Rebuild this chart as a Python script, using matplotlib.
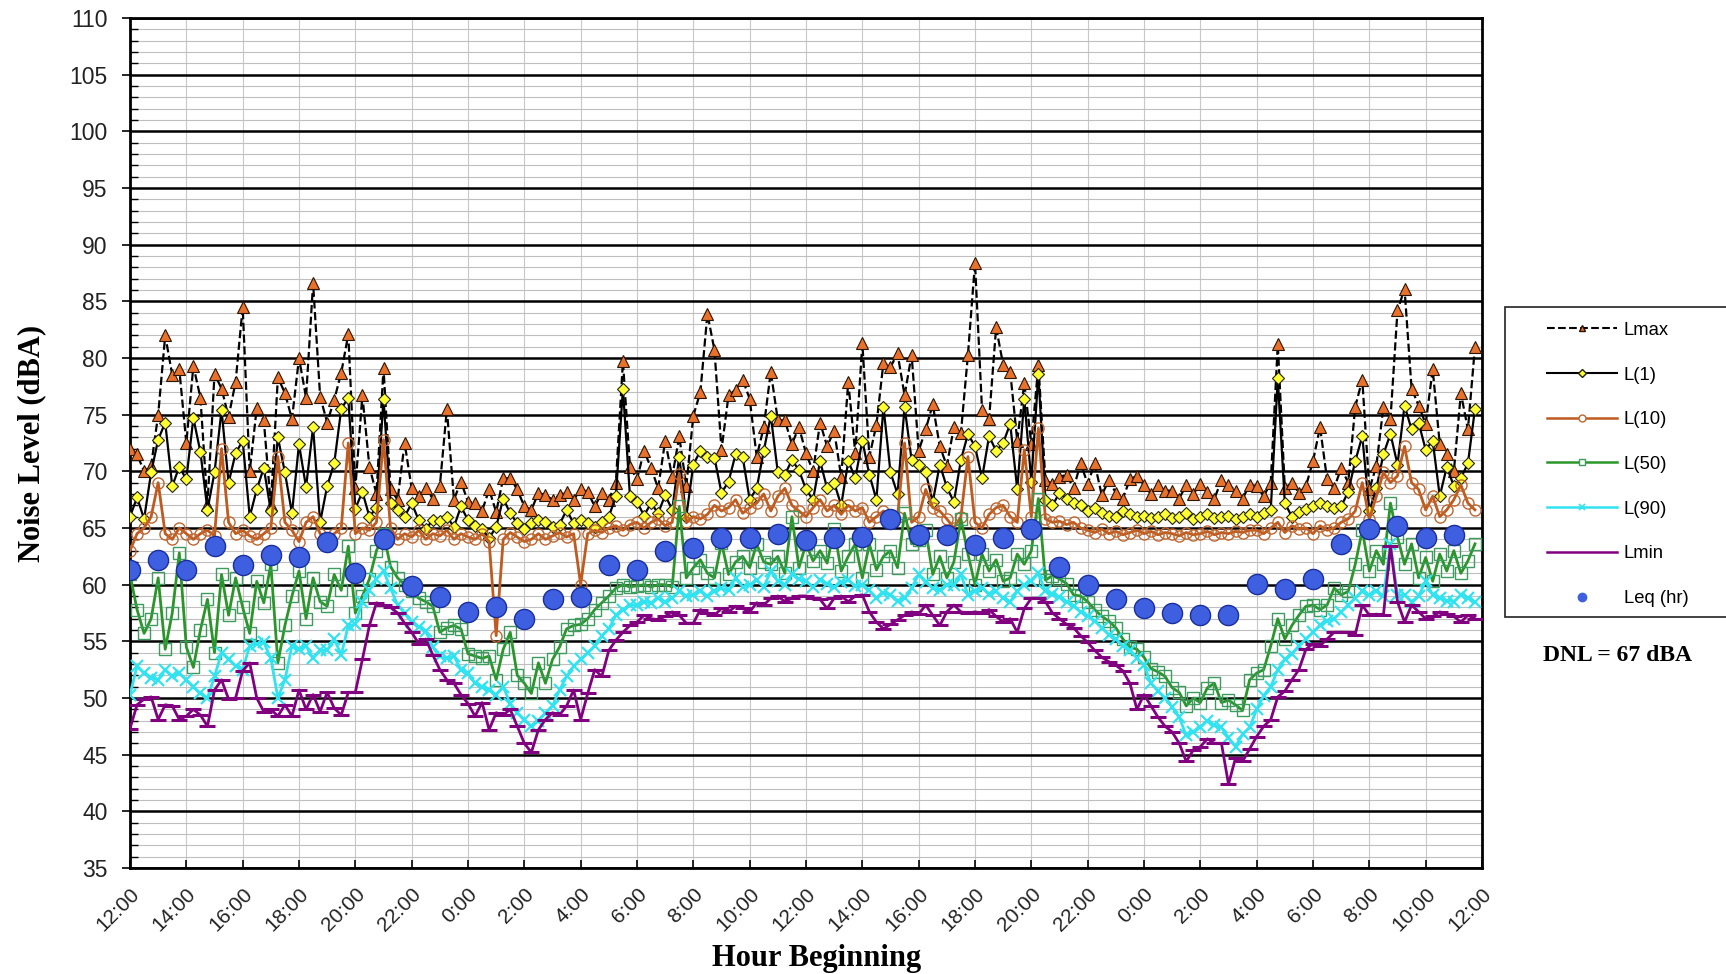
import matplotlib
matplotlib.use("Agg")
import matplotlib.pyplot as plt
import numpy as np
from matplotlib.lines import Line2D
from matplotlib.patches import Rectangle

# 15-minute readings (dBA), 12:00 day 1 -> 12:00 day 3, one row block per 8 hours
lmax = [
    72.0, 71.5, 70.0, 70.5, 75.0, 82.0, 78.5, 79.0, 72.5, 79.3, 76.5, 67.0, 78.6, 77.3, 74.8, 77.9,
    84.5, 70.0, 75.6, 74.5, 67.0, 78.3, 76.9, 74.6, 80.0, 76.5, 86.6, 76.6, 74.3, 76.3, 78.7, 82.1,
    68.5, 76.7, 70.4, 68.0, 79.1, 68.4, 67.5, 72.5, 68.5, 67.8, 68.5, 67.6, 68.7, 75.5, 67.5, 69.1,
    67.3, 67.2, 66.5, 68.4, 66.4, 69.4, 69.4, 68.4, 66.9, 66.6, 68.1, 67.9, 67.5, 67.9, 68.2, 67.5,
    68.4, 68.2, 66.9, 68.1, 67.5, 69.0, 79.7, 70.4, 69.3, 71.8, 70.3, 68.5, 72.7, 69.5, 73.1, 68.7,
    74.9, 77.0, 83.9, 80.7, 71.9, 76.7, 77.2, 78.1, 76.4, 71.3, 73.9, 78.8, 74.5, 74.5, 72.4, 73.9,
    71.6, 70.0, 74.3, 72.2, 73.6, 69.5, 77.9, 71.6, 81.3, 71.3, 74.1, 79.6, 79.2, 80.4, 76.7, 80.3,
    71.8, 73.7, 75.9, 72.2, 70.5, 73.9, 73.4, 80.3, 88.4, 75.4, 74.6, 82.7, 79.4, 78.8, 72.7, 77.8,
    72.4, 79.4, 69.2, 68.9, 69.5, 69.7, 68.5, 70.7, 68.9, 70.7, 67.9, 69.2, 68.1, 67.6, 69.3, 69.6,
    68.8, 68.0, 68.8, 68.3, 68.3, 67.6, 68.8, 68.0, 68.9, 68.2, 67.6, 69.2, 68.8, 68.3, 67.6, 68.8,
    68.7, 67.8, 69.0, 81.2, 68.5, 69.0, 68.1, 68.7, 70.9, 73.9, 69.3, 68.5, 70.3, 69.0, 75.7, 78.1,
    68.4, 70.5, 75.7, 74.6, 84.2, 86.1, 77.3, 75.8, 74.2, 79.0, 72.4, 71.5, 70.0, 76.9, 73.7, 81.0,
]
l1 = [
    66.0, 67.7, 65.8, 69.9, 72.8, 74.3, 68.7, 70.4, 69.3, 74.7, 71.7, 66.6, 69.9, 75.4, 69.0, 71.6,
    72.7, 66.0, 68.4, 70.3, 66.5, 73.0, 69.9, 66.3, 72.4, 68.6, 73.9, 65.5, 68.7, 70.7, 75.5, 76.5,
    66.7, 68.2, 66.0, 66.8, 76.4, 67.2, 66.6, 66.0, 67.2, 65.7, 64.9, 65.7, 65.6, 66.0, 65.1, 66.9,
    65.7, 65.2, 64.9, 64.1, 65.1, 67.6, 66.3, 65.4, 64.9, 65.4, 65.7, 65.5, 65.1, 65.3, 66.6, 65.4,
    65.7, 65.4, 65.1, 65.5, 66.0, 67.8, 77.3, 67.8, 67.3, 66.1, 67.2, 66.3, 67.9, 66.6, 71.3, 66.0,
    70.6, 71.8, 71.3, 71.2, 68.1, 69.1, 71.5, 71.3, 67.5, 68.5, 71.8, 74.9, 69.9, 69.7, 71.0, 70.1,
    68.4, 67.5, 70.9, 68.5, 69.0, 67.0, 70.9, 69.4, 72.7, 69.7, 67.5, 75.7, 69.9, 68.0, 75.7, 71.0,
    70.6, 69.9, 67.3, 70.6, 68.6, 67.3, 71.0, 73.3, 72.2, 69.4, 73.1, 71.8, 72.5, 74.2, 68.4, 76.4,
    69.1, 78.6, 67.5, 67.0, 68.1, 67.6, 67.2, 67.0, 66.5, 66.8, 66.3, 66.1, 66.0, 66.5, 66.2, 66.0,
    66.1, 65.9, 66.0, 66.2, 65.9, 66.0, 66.3, 65.8, 66.0, 66.2, 65.9, 66.0, 66.1, 65.8, 66.0, 66.2,
    66.0, 66.3, 66.6, 78.2, 67.2, 66.0, 66.4, 66.7, 66.9, 67.2, 66.9, 66.8, 66.9, 68.2, 70.9, 73.1,
    66.5, 68.5, 71.5, 73.3, 70.6, 75.8, 73.7, 74.3, 71.9, 72.7, 67.8, 70.4, 68.7, 69.4, 70.7, 75.5,
]
l10 = [
    63.0, 64.5, 65.0, 66.0, 69.0, 64.5, 64.0, 65.0, 64.5, 64.0, 64.5, 64.8, 64.3, 72.0, 65.5, 64.5,
    64.8, 64.3, 64.0, 64.5, 65.0, 71.3, 65.5, 64.8, 63.8, 65.5, 66.0, 64.5, 64.0, 64.5, 65.0, 72.5,
    64.5, 65.0, 64.8, 65.5, 72.8, 65.0, 64.0, 64.5, 64.2, 64.8, 64.0, 64.5, 64.3, 64.8, 64.0, 64.5,
    64.2, 64.0, 64.5, 63.8, 55.5, 64.0, 64.6, 64.2, 63.8, 64.0, 64.5, 64.0, 64.3, 64.6, 64.2, 64.5,
    60.0, 64.5, 64.8, 64.6, 65.0, 65.2, 64.8, 65.3, 65.5, 65.0, 65.5, 65.8, 65.2, 65.5, 69.8, 65.5,
    66.0, 65.8, 66.2, 67.0, 66.5, 66.8, 67.5, 66.3, 66.8, 67.2, 68.0, 66.5, 67.8, 68.5, 67.0, 66.5,
    66.0, 66.8, 67.5, 66.5, 67.0, 66.2, 67.0, 66.5, 66.8, 65.5, 66.0, 66.5, 65.5, 66.0, 72.5, 65.5,
    66.0, 68.4, 66.8, 66.5, 65.8, 65.0, 66.0, 71.3, 65.5, 65.0, 66.2, 66.8, 67.0, 66.0, 65.5, 71.9,
    66.0, 73.8, 65.8, 65.5, 65.6, 65.3, 65.5, 65.0, 64.8, 64.6, 64.9, 64.5, 64.7, 64.4, 64.6, 64.8,
    64.5, 64.7, 64.4, 64.6, 64.5, 64.3, 64.6, 64.4, 64.5, 64.7, 64.4, 64.6, 64.5, 64.7, 64.6, 64.8,
    64.8, 64.5, 65.0, 65.5, 64.6, 65.2, 64.9, 65.0, 64.5, 65.2, 64.8, 65.0, 65.5, 65.8, 66.5, 69.0,
    65.8, 67.8, 69.9, 69.0, 69.6, 72.2, 69.0, 68.4, 66.6, 67.8, 66.0, 66.6, 67.5, 68.8, 67.2, 66.6,
]
l50 = [
    60.9, 57.8, 55.7, 57.0, 60.6, 54.3, 57.5, 62.8, 54.5, 52.7, 56.0, 58.7, 54.0, 60.9, 57.3, 60.6,
    58.0, 55.7, 60.3, 58.4, 61.8, 53.1, 56.4, 59.0, 61.2, 57.0, 60.6, 58.5, 58.1, 60.9, 59.5, 63.4,
    57.5, 59.0, 60.5, 63.0, 64.5, 61.6, 60.6, 60.0, 59.4, 58.8, 58.5, 58.1, 55.8, 56.2, 56.4, 56.1,
    53.9, 53.7, 53.5, 53.7, 51.6, 54.3, 55.8, 52.0, 51.3, 50.4, 53.1, 51.3, 53.4, 54.5, 56.1, 56.4,
    56.5, 57.0, 57.8, 58.4, 59.0, 59.7, 60.0, 59.8, 59.9, 60.0, 59.8, 60.0, 60.0, 59.8, 66.9, 60.6,
    61.5, 62.2, 61.0, 60.6, 63.7, 60.9, 62.0, 62.5, 61.5, 63.6, 62.0, 61.8, 62.5, 61.0, 66.0, 61.5,
    63.6, 62.1, 63.0, 61.9, 64.9, 61.2, 62.5, 63.6, 60.6, 63.6, 61.3, 62.5, 63.0, 61.5, 66.3, 63.6,
    63.9, 64.8, 60.9, 62.5, 60.6, 62.0, 65.8, 62.7, 60.0, 62.7, 61.2, 62.2, 60.3, 60.6, 62.7, 61.8,
    63.0, 67.6, 60.4, 60.8, 60.5, 60.1, 59.1, 59.0, 58.5, 57.8, 57.2, 56.8, 56.2, 55.2, 54.5, 54.3,
    53.6, 52.6, 52.3, 51.9, 50.9, 50.5, 49.3, 50.0, 49.6, 50.9, 51.3, 49.6, 49.8, 49.4, 48.9, 51.6,
    52.2, 52.5, 54.6, 57.0, 55.2, 56.4, 57.3, 58.1, 58.2, 57.8, 58.2, 59.7, 59.1, 59.4, 61.8, 64.8,
    61.2, 63.0, 61.8, 67.2, 64.2, 61.8, 63.6, 60.6, 62.4, 60.3, 62.7, 61.2, 63.0, 61.0, 62.1, 63.6,
]
l90 = [
    50.3, 52.8, 52.2, 51.8, 51.6, 52.5, 51.9, 52.2, 51.6, 51.0, 50.4, 50.0, 51.9, 54.0, 53.4, 52.8,
    52.5, 54.6, 54.8, 54.9, 53.5, 50.0, 51.6, 54.6, 54.3, 54.6, 53.5, 54.2, 54.2, 55.2, 53.8, 56.4,
    56.5, 58.5, 59.5, 60.5, 61.2, 59.7, 58.2, 57.5, 56.7, 56.3, 55.9, 54.5, 53.7, 53.5, 53.7, 52.5,
    52.2, 51.3, 51.0, 50.7, 50.3, 51.0, 49.5, 48.7, 48.1, 47.5, 48.0, 48.7, 49.3, 50.7, 51.9, 52.8,
    53.4, 54.0, 54.6, 55.5, 56.1, 57.3, 57.8, 58.2, 58.2, 58.5, 58.4, 58.8, 58.5, 58.8, 59.4, 59.0,
    59.1, 59.4, 59.0, 59.4, 59.7, 59.5, 60.6, 59.8, 60.0, 60.4, 59.8, 61.2, 60.3, 60.0, 60.9, 60.5,
    60.3, 59.8, 60.4, 60.1, 59.8, 60.2, 60.4, 59.9, 60.0, 59.5, 58.8, 59.3, 59.1, 58.6, 58.8, 59.7,
    60.9, 60.2, 59.7, 59.5, 60.0, 60.0, 60.9, 59.1, 59.4, 59.7, 59.2, 59.4, 58.8, 58.5, 59.4, 60.0,
    60.3, 61.0, 59.4, 59.2, 58.9, 58.5, 58.1, 57.6, 57.2, 56.8, 56.2, 55.6, 55.2, 54.6, 54.2, 53.5,
    52.9, 51.3, 50.6, 50.0, 49.2, 48.3, 46.7, 47.0, 47.4, 48.0, 47.6, 47.4, 46.5, 45.7, 46.8, 47.4,
    49.0, 50.2, 51.0, 52.5, 53.4, 53.9, 54.6, 55.2, 55.8, 56.4, 56.8, 57.0, 57.6, 58.2, 58.8, 59.4,
    59.1, 59.4, 59.0, 63.6, 59.1, 59.1, 58.5, 59.0, 60.3, 59.1, 58.8, 58.6, 58.5, 59.1, 58.8, 58.5,
]
lmin = [
    47.3, 49.4, 49.9, 50.1, 48.1, 49.4, 49.3, 48.1, 48.4, 49.0, 48.5, 47.5, 50.7, 51.6, 49.9, 50.0,
    52.4, 53.1, 50.0, 48.8, 49.0, 48.4, 49.4, 48.4, 50.7, 49.0, 50.3, 48.8, 50.5, 49.1, 48.5, 50.5,
    50.5, 53.4, 56.4, 58.4, 58.2, 58.0, 57.5, 56.6, 55.8, 54.8, 55.2, 53.8, 52.5, 51.6, 51.3, 50.3,
    49.5, 48.4, 49.6, 47.2, 48.7, 48.5, 49.0, 47.5, 46.0, 45.2, 47.2, 48.1, 48.7, 48.5, 49.3, 50.7,
    48.1, 50.4, 52.5, 51.9, 54.2, 55.1, 55.8, 56.4, 56.7, 57.3, 57.0, 56.9, 57.2, 57.6, 57.3, 56.6,
    56.6, 57.8, 57.5, 57.3, 57.9, 57.6, 58.1, 57.9, 57.6, 58.4, 58.2, 58.8, 59.0, 58.5, 58.8, 59.0,
    59.0, 58.8, 58.7, 57.9, 58.8, 59.0, 58.5, 59.0, 59.1, 57.6, 56.7, 56.1, 56.5, 56.9, 57.3, 57.6,
    57.4, 58.2, 57.3, 56.4, 57.6, 58.2, 57.6, 57.5, 57.6, 57.5, 57.8, 57.2, 56.7, 57.0, 55.8, 57.9,
    58.8, 58.8, 58.5, 57.5, 57.0, 56.5, 56.2, 55.5, 54.9, 54.2, 53.6, 53.2, 52.9, 52.4, 51.3, 49.0,
    50.3, 49.3, 48.3, 47.5, 47.0, 46.0, 44.4, 45.4, 45.7, 46.4, 46.0, 46.0, 42.4, 44.7, 44.4, 45.5,
    46.6, 47.5, 48.1, 50.1, 50.6, 51.6, 52.5, 54.3, 54.8, 54.6, 55.2, 55.8, 55.8, 55.8, 55.6, 58.2,
    57.3, 57.4, 57.3, 63.4, 58.5, 56.7, 58.2, 57.6, 57.0, 57.2, 57.6, 57.4, 57.2, 56.7, 57.3, 57.0,
]
# hourly Leq
leq = [
    61.3, 62.2, 61.3, 63.4, 61.7, 62.6, 62.4, 63.8, 61.0, 64.0, 59.9, 58.9,
    57.6, 58.0, 57.0, 58.7, 58.9, 61.7, 61.3, 63.0, 63.2, 64.1, 64.1, 64.5,
    63.9, 64.1, 64.2, 65.8, 64.4, 64.4, 63.5, 64.1, 64.9, 61.6, 60.0, 58.7,
    57.9, 57.5, 57.3, 57.3, 60.1, 59.6, 60.5, 63.6, 64.9, 65.2, 64.1, 64.4,
]
tick_labels = ["12:00", "14:00", "16:00", "18:00", "20:00", "22:00", "0:00", "2:00",
               "4:00", "6:00", "8:00", "10:00", "12:00", "14:00", "16:00", "18:00",
               "20:00", "22:00", "0:00", "2:00", "4:00", "6:00", "8:00", "10:00", "12:00"]

hours = np.arange(len(lmax)) * 0.25
leq_hours = np.arange(len(leq))

sans = "Liberation Sans"
serif = "Liberation Serif"

fig = plt.figure(figsize=(17.26, 9.74), dpi=100)
ax = fig.add_axes([0.07532, 0.10883, 0.78331, 0.87269])

ax.plot(hours, lmax, color="black", ls="--", lw=1.6, marker="^", ms=9,
        mfc="#E8712B", mec="#2b1400", mew=0.8, zorder=3)
ax.plot(hours, l1, color="black", lw=1.6, marker="D", ms=6.5,
        mfc="#FFFF33", mec="#222200", mew=0.8, zorder=4)
ax.plot(hours, l10, color="#BF5B1E", lw=2.0, marker="o", ms=8,
        mfc="none", mec="#C0652E", mew=1.0, zorder=5)
ax.plot(hours, l50, color="#2A962A", lw=2.0, marker="s", ms=8,
        mfc="none", mec="#3D9B5E", mew=1.0, zorder=5)
ax.plot(hours, l90, color="#30E3F0", lw=2.0, marker="x", ms=8, mew=1.6, zorder=5)
ax.plot(hours, lmin, color="#800080", lw=2.0, marker="_", ms=11, mew=2.2, zorder=5)
ax.plot(leq_hours, leq, ls="none", marker="o", ms=14.5,
        mfc="#3D5FE0", mec="#1B2E9E", mew=1.0, zorder=7)

ax.set_xlim(0, 48)
ax.set_ylim(35, 110)
ax.set_xticks(np.arange(0, 49, 2))
ax.set_xticklabels(tick_labels, rotation=45, ha="right", va="top",
                   rotation_mode="anchor", fontsize=15, family=sans, color="#222222")
ax.set_yticks(np.arange(35, 111, 5))
ax.set_yticks(np.arange(35, 111, 1), minor=True)
for lab in ax.get_yticklabels():
    lab.set_family(sans)
    lab.set_fontsize(16.5)
    lab.set_color("#222222")

ax.set_axisbelow(True)
ax.grid(which="major", axis="y", color="black", lw=1.8)
ax.grid(which="minor", axis="y", color="#BFBFBF", lw=0.8)
ax.grid(which="major", axis="x", color="#C8C8C8", lw=0.8)

ax.tick_params(axis="y", which="major", direction="out", length=6, width=1.2, pad=10)
ax.tick_params(axis="y", which="minor", direction="in", length=6, width=1.0)
ax.tick_params(axis="x", which="major", direction="in", length=6, width=1.2, pad=12)
for sp in ax.spines.values():
    sp.set_linewidth(2.0)
    sp.set_color("black")

ax.set_ylabel("Noise Level (dBA)", fontsize=22, fontweight="bold", family=serif, va="center")
ax.yaxis.set_label_coords(-0.073, 0.5)
ax.set_xlabel("Hour Beginning", fontsize=22, fontweight="bold", family=serif, va="center")
ax.xaxis.set_label_coords((817 - 130) / 1352, -0.106)

# legend, with smaller markers than in the plot
handles = [
    Line2D([], [], color="black", ls="--", lw=1.5, marker="^", ms=5, mfc="#E8712B", mec="#2b1400"),
    Line2D([], [], color="black", lw=1.5, marker="D", ms=4, mfc="#FFFF33", mec="#222200"),
    Line2D([], [], color="#BF5B1E", lw=1.8, marker="o", ms=5, mfc="white", mec="#C0652E"),
    Line2D([], [], color="#2A962A", lw=1.8, marker="s", ms=5, mfc="white", mec="#3D9B5E"),
    Line2D([], [], color="#30E3F0", lw=1.8, marker="x", ms=5, mew=1.2),
    Line2D([], [], color="#800080", lw=1.8),
    Line2D([], [], ls="none", marker="o", ms=6, mfc="#3D5FE0", mec="#3D5FE0"),
]
labels = ["Lmax", "L(1)", "L(10)", "L(50)", "L(90)", "Lmin", "Leq (hr)"]
fig.legend(handles, labels, loc="upper left", bbox_to_anchor=(0.8963, 0.6696),
           frameon=False, prop={"family": sans, "size": 13.3}, handlelength=3.8,
           handletextpad=0.35, labelspacing=1.5, borderpad=0, borderaxespad=0)
fig.patches.append(Rectangle((0.872, 0.3665), 0.1285, 0.3183, transform=fig.transFigure,
                             fill=False, ec="#222222", lw=1.2))
fig.text(0.9369, 0.3275, "DNL = 67 dBA", ha="center", va="center",
         fontsize=17, fontweight="bold", family=serif)

fig.savefig("out.png", dpi=100)
